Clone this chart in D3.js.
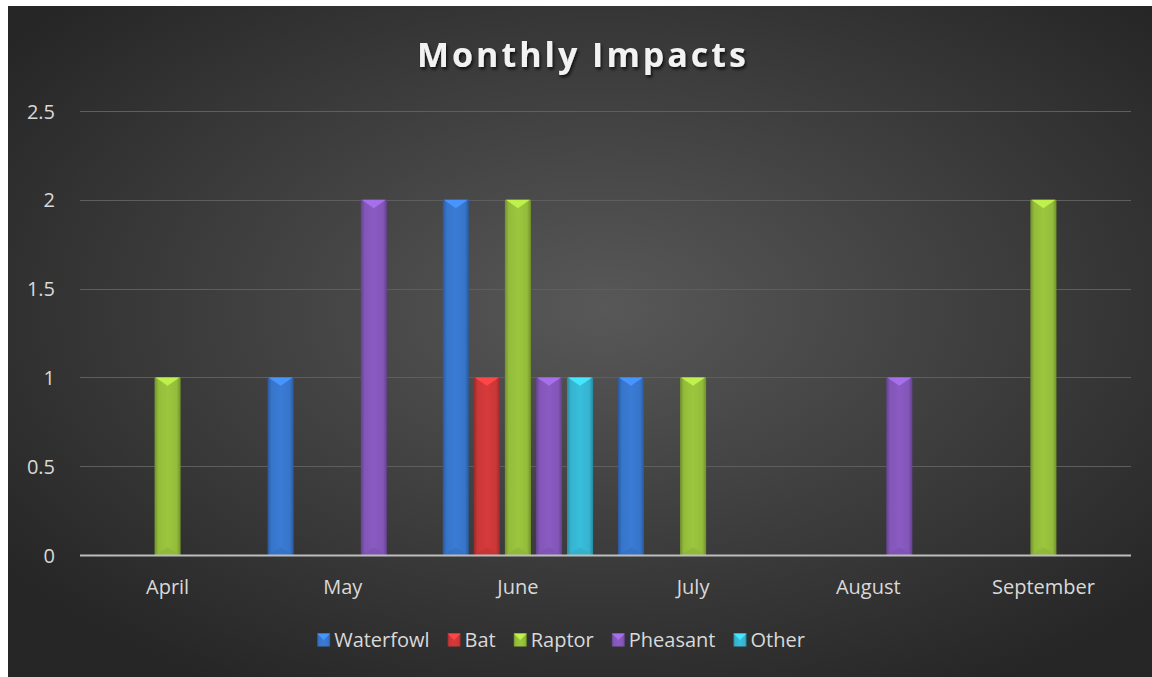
<!DOCTYPE html>
<html>
<head>
<meta charset="utf-8">
<script src="https://cdn.jsdelivr.net/npm/d3@7/dist/d3.min.js"></script>
<style>
  html, body { margin: 0; padding: 0; background: #ffffff; }
  svg { display: block; }
  text { font-family: "Open Sans", "DejaVu Sans", sans-serif; }
</style>
</head>
<body>
<svg id="chart" width="1152" height="677"></svg>
<script>
const months = ["April", "May", "June", "July", "August", "September"];
const seriesNames = ["Waterfowl", "Bat", "Raptor", "Pheasant", "Other"];
const waterfowl = [0, 1, 2, 1, 0, 0];
const bat       = [0, 0, 1, 0, 0, 0];
const raptor    = [1, 0, 2, 1, 0, 2];
const pheasant  = [0, 2, 1, 0, 1, 0];
const other     = [0, 0, 1, 0, 0, 0];
const yTicks = [0, 0.5, 1, 1.5, 2, 2.5];
const colors = ["#3a7bd5", "#d63a3a", "#9cc63e", "#8a5bc2", "#38bedb"];

const seriesValues = [waterfowl, bat, raptor, pheasant, other];

const svg = d3.select("#chart");
const defs = svg.append("defs");

// background
const bg = defs.append("radialGradient").attr("id", "bg")
  .attr("cx", "52%").attr("cy", "45%").attr("r", "65%");
bg.append("stop").attr("offset", "0%").attr("stop-color", "#585858");
bg.append("stop").attr("offset", "100%").attr("stop-color", "#262626");
svg.append("rect").attr("x", 8).attr("y", 6).attr("width", 1144).attr("height", 671)
  .attr("fill", "url(#bg)");

// bar gradients
seriesNames.forEach((s, i) => {
  const c = d3.color(colors[i]);
  const g = defs.append("linearGradient").attr("id", "g" + i)
    .attr("x1", "0%").attr("x2", "100%").attr("y1", "0%").attr("y2", "0%");
  g.append("stop").attr("offset", "0%").attr("stop-color", c.darker(0.9));
  g.append("stop").attr("offset", "15%").attr("stop-color", c.darker(0.15));
  g.append("stop").attr("offset", "50%").attr("stop-color", c);
  g.append("stop").attr("offset", "85%").attr("stop-color", c.darker(0.15));
  g.append("stop").attr("offset", "100%").attr("stop-color", c.darker(0.9));
});

const shadow = defs.append("filter").attr("id", "tshadow")
  .attr("x", "-10%").attr("y", "-20%").attr("width", "120%").attr("height", "150%");
shadow.append("feDropShadow").attr("dx", 1.5).attr("dy", 2.5).attr("stdDeviation", 1.5)
  .attr("flood-color", "#000").attr("flood-opacity", 0.7);

const margin = { left: 80, right: 1131, top: 111, bottom: 555 };

const x0 = d3.scaleBand().domain(months).range([margin.left, margin.right])
  .paddingInner(0).paddingOuter(0);
const x1 = d3.scaleBand().domain(seriesNames).range([0, x0.bandwidth()])
  .paddingInner(0.16).paddingOuter(0.4);
const y = d3.scaleLinear().domain([0, 2.5]).range([margin.bottom, margin.top]);

// gridlines
svg.append("g").selectAll("line").data(yTicks.filter(t => t > 0)).join("line")
  .attr("x1", margin.left).attr("x2", margin.right)
  .attr("y1", d => Math.round(y(d)) + 0.5).attr("y2", d => Math.round(y(d)) + 0.5)
  .attr("stroke", "#5e5e5e").attr("stroke-width", 1);

// y axis labels
const yAxis = d3.axisLeft(y).tickValues(yTicks).tickSize(0).tickPadding(0)
  .tickFormat(d3.format("~g"));
const yg = svg.append("g").attr("transform", `translate(55,0)`).call(yAxis);
yg.select(".domain").remove();
yg.selectAll("text").attr("fill", "#d9d9d9").attr("font-size", 20).attr("dy", "0.35em");

// bars
const flat = [];
months.forEach((m, mi) => {
  seriesNames.forEach((s, si) => {
    const v = seriesValues[si][mi];
    if (v > 0) flat.push({ m, s, si, v });
  });
});

const bars = svg.append("g").selectAll("g").data(flat).join("g");
bars.append("rect")
  .attr("x", d => x0(d.m) + x1(d.s))
  .attr("y", d => y(d.v))
  .attr("width", x1.bandwidth())
  .attr("height", d => y(0) - y(d.v))
  .attr("fill", d => `url(#g${d.si})`);
// top bevel triangle
bars.append("path")
  .attr("d", d => {
    const xl = x0(d.m) + x1(d.s), w = x1.bandwidth(), yt = y(d.v);
    return `M${xl + 1},${yt} L${xl + w - 1},${yt} L${xl + w / 2},${yt + w * 0.32} Z`;
  })
  .attr("fill", d => d3.color(colors[d.si]).brighter(0.55));
// bottom bevel (subtle)
bars.append("path")
  .attr("d", d => {
    const xl = x0(d.m) + x1(d.s), w = x1.bandwidth(), yb = y(0);
    return `M${xl + 1},${yb} L${xl + w - 1},${yb} L${xl + w / 2},${yb - w * 0.3} Z`;
  })
  .attr("fill", d => d3.color(colors[d.si]).darker(0.3)).attr("opacity", 0.6);

// baseline
svg.append("line").attr("x1", margin.left).attr("x2", margin.right)
  .attr("y1", y(0) + 0.5).attr("y2", y(0) + 0.5)
  .attr("stroke", "#bdbdbd").attr("stroke-width", 2);

// x axis labels
const xAxis = d3.axisBottom(x0).tickSize(0).tickPadding(0);
const xg = svg.append("g").attr("transform", `translate(0,587)`).call(xAxis);
xg.select(".domain").remove();
xg.selectAll("text").attr("fill", "#d9d9d9").attr("font-size", 20).attr("dy", "0.35em");

// title
svg.append("text").attr("x", 583).attr("y", 67).attr("text-anchor", "middle")
  .attr("font-size", 34).attr("font-weight", "bold").attr("letter-spacing", 3)
  .attr("fill", "#f2f2f2").attr("filter", "url(#tshadow)")
  .text("Monthly Impacts");

// legend
const leg = svg.append("g");
const gap = 18;
let cx = 0;
seriesNames.forEach((s, i) => {
  const g = leg.append("g");
  const sq = 13;
  g.append("rect").attr("x", 0).attr("y", -sq / 2).attr("width", sq).attr("height", sq)
    .attr("fill", `url(#g${i})`);
  g.append("path").attr("d", `M0,${-sq/2} L${sq},${-sq/2} L${sq/2},${0} Z`)
    .attr("fill", d3.color(colors[i]).brighter(0.55));
  const t = g.append("text").attr("x", sq + 4).attr("y", 0).attr("dy", "0.35em")
    .attr("font-size", 20).attr("fill", "#d9d9d9").text(s);
  const tw = t.node().getComputedTextLength();
  g.attr("transform", `translate(${cx},0)`);
  cx += sq + 4 + tw + gap;
});
const total = cx - gap;
leg.attr("transform", `translate(${561 - total / 2},640)`);
</script>
</body>
</html>
